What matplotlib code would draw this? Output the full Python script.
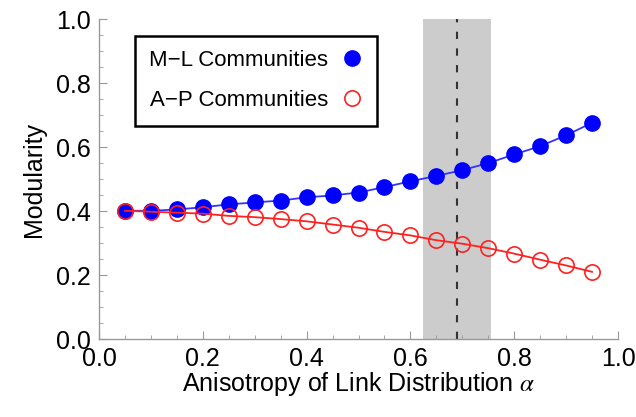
import matplotlib
matplotlib.use("Agg")
import matplotlib.pyplot as plt
from matplotlib.ticker import MultipleLocator

alpha = [0.05, 0.10, 0.15, 0.20, 0.25, 0.30, 0.35, 0.40, 0.45, 0.50,
         0.55, 0.60, 0.65, 0.70, 0.75, 0.80, 0.85, 0.90, 0.95]
ml_modularity = [0.401, 0.401, 0.405, 0.412, 0.421, 0.427, 0.433, 0.443, 0.449, 0.458,
                 0.475, 0.493, 0.510, 0.528, 0.550, 0.577, 0.603, 0.637, 0.676]
ap_modularity = [0.401, 0.398, 0.395, 0.392, 0.385, 0.381, 0.375, 0.368, 0.358, 0.348,
                 0.335, 0.324, 0.309, 0.298, 0.284, 0.267, 0.248, 0.230, 0.210]
band = (0.625, 0.755)
alpha_star = 0.69
labels = ["M\u2212L Communities", "A\u2212P Communities"]

plt.rcParams['font.family'] = ['Liberation Sans', 'DejaVu Sans']
plt.rcParams['mathtext.fontset'] = 'stix'

fig = plt.figure(figsize=(6.36, 4.17), dpi=100)
ax = fig.add_axes([0.1557, 0.187, 0.816, 0.767])

ax.axvspan(band[0], band[1], color='#cccccc', zorder=0, lw=0)
ax.axvline(alpha_star, color='#333333', lw=1.5, dashes=(3.5, 4.5), zorder=1)

ax.plot(alpha, ml_modularity, '-', color='#3333ff', lw=1.3, zorder=2)
ax.plot(alpha, ml_modularity, 'o', color='#0000ff', ms=11, mec='#0000ff', zorder=3)
ax.plot(alpha, ap_modularity, '-', color='#ff2020', lw=1.3, zorder=4)
ax.plot(alpha, ap_modularity, 'o', mfc='none', mec='#ff2020', mew=1.2, ms=11, zorder=5)

h1, = ax.plot([], [], 'o', color='#0000ff', ms=11)
h2, = ax.plot([], [], 'o', mfc='none', mec='#ff2020', mew=1.2, ms=11)
leg = ax.legend([h1, h2], labels, loc='upper left', bbox_to_anchor=(0.069, 0.948),
                borderaxespad=0, markerfirst=False, fancybox=False, fontsize=16,
                handlelength=1.0, handletextpad=0.55, labelspacing=0.85,
                borderpad=0.65, framealpha=1)
leg.get_frame().set_edgecolor('black')
leg.get_frame().set_linewidth(1.8)

ax.set_xlim(0, 1)
ax.set_ylim(0, 1)
ax.xaxis.set_major_locator(MultipleLocator(0.2))
ax.yaxis.set_major_locator(MultipleLocator(0.2))
ax.xaxis.set_minor_locator(MultipleLocator(0.05))
ax.yaxis.set_minor_locator(MultipleLocator(0.05))
ax.xaxis.set_major_formatter(plt.FuncFormatter(lambda v, p: f"{v:.1f}"))
ax.yaxis.set_major_formatter(plt.FuncFormatter(lambda v, p: f"{v:.1f}"))

for s in ['top', 'right']:
    ax.spines[s].set_visible(False)
for s in ['left', 'bottom']:
    ax.spines[s].set_color('#999999')
    ax.spines[s].set_linewidth(1.0)
ax.tick_params(which='major', direction='in', length=6, color='#999999', labelsize=18, pad=6)
ax.tick_params(which='minor', direction='in', length=3, color='#999999')

ax.set_xlabel("Anisotropy of Link Distribution $\\alpha$", fontsize=18, labelpad=-1)
ax.set_ylabel("Modularity", fontsize=18, labelpad=7)

fig.savefig("out.png", dpi=100)
